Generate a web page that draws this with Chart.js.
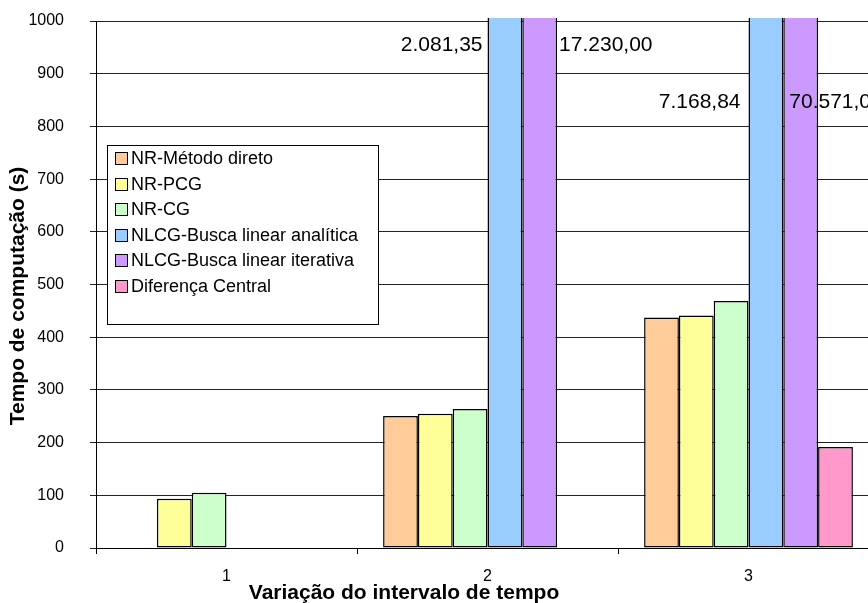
<!DOCTYPE html>
<html>
<head>
<meta charset="utf-8">
<script src="https://cdn.jsdelivr.net/npm/chart.js@4.4.1/dist/chart.umd.min.js"></script>
<style>
  html, body { margin: 0; padding: 0; background: #fff; overflow: hidden; }
  #wrap { width: 880px; height: 603px; }
</style>
</head>
<body>
<div id="wrap"><canvas id="myChart"></canvas></div>
<script>
// tempos de computação (s) por variação do intervalo de tempo
const intervalos = ['1', '2', '3'];
const nrDireto = [null, 250.5, 437.6];
const nrPcg = [93.5, 254.8, 441.4];
const nrCg = [105.0, 263.8, 468.7];
const nlcgAnalitica = [null, 2081.35, 7168.84];
const nlcgIterativa = [null, 17230.0, 70571.0];
const difCentral = [null, null, 191.6];

const nomes = [
  'NR-Método direto',
  'NR-PCG',
  'NR-CG',
  'NLCG-Busca linear analítica',
  'NLCG-Busca linear iterativa',
  'Diferença Central',
];
const cores = ['#FFCC99', '#FFFF99', '#CCFFCC', '#99CCFF', '#CC99FF', '#FF99CC'];

const FONTE = '"Liberation Sans", Arial, sans-serif';

function formatBR(v) {
  const partes = v.toFixed(2).split('.');
  return partes[0].replace(/\B(?=(\d{3})+(?!\d))/g, '.') + ',' + partes[1];
}

// legenda em caixa branca sobre a área do gráfico
const legendaCaixa = {
  id: 'legendaCaixa',
  afterDraw(chart, args, opts) {
    const ctx = chart.ctx;
    ctx.save();
    ctx.fillStyle = '#fff';
    ctx.fillRect(opts.x, opts.y, opts.w, opts.h);
    ctx.strokeStyle = '#000';
    ctx.lineWidth = 1;
    ctx.strokeRect(opts.x + 0.5, opts.y + 0.5, opts.w, opts.h);
    ctx.font = opts.fontSize + 'px ' + FONTE;
    ctx.textBaseline = 'middle';
    chart.data.datasets.forEach((ds, i) => {
      const cy = opts.y + opts.first + i * opts.row;
      const sx = opts.x + opts.swatchX;
      const sy = Math.round(cy - opts.swatch / 2);
      ctx.fillStyle = ds.backgroundColor;
      ctx.fillRect(sx, sy, opts.swatch, opts.swatch);
      ctx.strokeStyle = '#000';
      ctx.strokeRect(sx + 0.5, sy + 0.5, opts.swatch, opts.swatch);
      ctx.fillStyle = '#000';
      ctx.fillText(ds.label, opts.x + opts.textX, cy + 1);
    });
    ctx.restore();
  }
};

// rótulos com os valores das barras que ultrapassam a escala
const rotulosValores = {
  id: 'rotulosValores',
  afterDatasetsDraw(chart, args, opts) {
    const ctx = chart.ctx;
    const y = chart.scales.y;
    ctx.save();
    ctx.font = opts.fontSize + 'px ' + FONTE;
    ctx.fillStyle = '#000';
    ctx.textBaseline = 'middle';
    opts.itens.forEach((it) => {
      const bar = chart.getDatasetMeta(it.ds).data[it.idx];
      const valor = chart.data.datasets[it.ds].data[it.idx];
      const esq = bar.x - bar.width / 2;
      const dir = bar.x + bar.width / 2;
      ctx.textAlign = it.align;
      const x = (it.from === 'left' ? esq : dir) + it.dx;
      ctx.fillText(formatBR(valor), x, y.getPixelForValue(it.yVal));
    });
    ctx.restore();
  }
};

// títulos dos eixos
const titulosEixos = {
  id: 'titulosEixos',
  afterDraw(chart, args, opts) {
    const ctx = chart.ctx;
    ctx.save();
    ctx.font = 'bold ' + opts.fontSize + 'px ' + FONTE;
    ctx.fillStyle = '#000';
    ctx.textAlign = 'center';
    ctx.textBaseline = 'middle';
    ctx.fillText(opts.x.text, opts.x.cx, opts.x.cy);
    ctx.translate(opts.y.cx, opts.y.cy);
    ctx.rotate(-Math.PI / 2);
    ctx.fillText(opts.y.text, 0, 0);
    ctx.restore();
  }
};

const series = [nrDireto, nrPcg, nrCg, nlcgAnalitica, nlcgIterativa, difCentral];

const ctx = document.getElementById('myChart');
const myChart = new Chart(ctx, {
  type: 'bar',
  data: {
    labels: intervalos,
    datasets: series.map((d, i) => ({
      label: nomes[i],
      data: d,
      backgroundColor: cores[i],
      borderColor: '#000',
      borderWidth: 1.5,
      borderSkipped: false,
      inflateAmount: 0,
      categoryPercentage: 0.8,
      barPercentage: 1.0,
      clip: { left: 0, top: 3, right: 0, bottom: 0 },
    })),
  },
  plugins: [legendaCaixa, rotulosValores, titulosEixos],
  options: {
    responsive: true,
    maintainAspectRatio: false,
    animation: false,
    layout: { padding: { top: 21, right: 1, bottom: 0, left: 0 } },
    plugins: {
      legend: { display: false },
      tooltip: { enabled: false },
      legendaCaixa: {
        x: 107, y: 145, w: 271, h: 179,
        first: 13, row: 25.6, swatch: 12, swatchX: 8, textX: 24, fontSize: 18,
      },
      rotulosValores: {
        fontSize: 21,
        itens: [
          { ds: 3, idx: 1, from: 'left', align: 'right', dx: -5, yVal: 955 },
          { ds: 4, idx: 1, from: 'right', align: 'left', dx: 2, yVal: 955 },
          { ds: 3, idx: 2, from: 'left', align: 'right', dx: -8, yVal: 846 },
          { ds: 4, idx: 2, from: 'left', align: 'left', dx: 6, yVal: 846 },
        ],
      },
      titulosEixos: {
        fontSize: 21,
        x: { text: 'Variação do intervalo de tempo', cx: 404, cy: 593 },
        y: { text: 'Tempo de computação (s)', cx: 18, cy: 296 },
      },
    },
    scales: {
      x: {
        afterFit: (scale) => { scale.height = 55; },
        grid: {
          offset: true,
          drawOnChartArea: false,
          color: '#000',
          tickLength: 6,
        },
        border: { color: '#000', width: 1 },
        ticks: {
          color: '#000',
          padding: 13,
          font: { family: FONTE, size: 16 },
        },
      },
      y: {
        min: 0,
        max: 1000,
        afterFit: (scale) => {
          scale.width = 96;
          scale.paddingTop = 0;
          scale.paddingBottom = 0;
        },
        grid: { color: '#222', tickLength: 6 },
        border: { color: '#000', width: 1 },
        ticks: {
          stepSize: 100,
          color: '#000',
          padding: 26,
          font: { family: FONTE, size: 16 },
          callback: (v) => String(v),
        },
      },
    },
  },
});
</script>
</body>
</html>
